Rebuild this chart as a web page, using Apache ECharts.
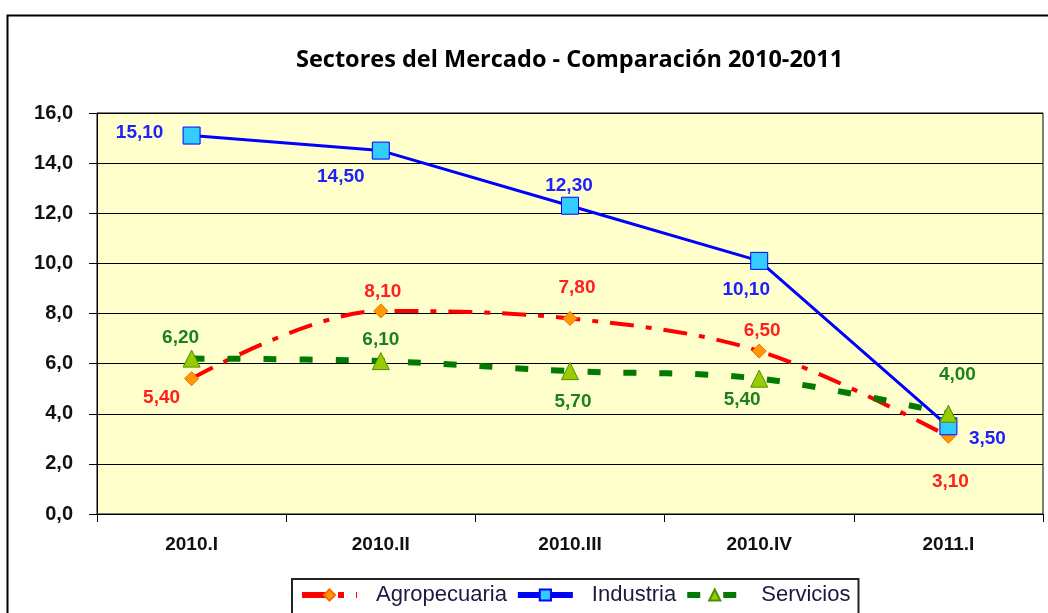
<!DOCTYPE html>
<html><head><meta charset="utf-8">
<script src="https://cdn.jsdelivr.net/npm/echarts@6/dist/echarts.min.js"></script>
<style>html,body{margin:0;padding:0;background:#fff}#c{width:1048px;height:613px}</style>
</head><body><div id="c"></div>
<script>
const categories = ['2010.I','2010.II','2010.III','2010.IV','2011.I'];
const agropecuaria = [5.4, 8.1, 7.8, 6.5, 3.1];
const industria = [15.1, 14.5, 12.3, 10.1, 3.5];
const servicios = [6.2, 6.1, 5.7, 5.4, 4.0];
const yTicks = {min: 0, max: 16, interval: 2};

const agroOff = [[-30,19],[2,-19],[7,-31],[3,-20],[2,45]];
const indOff = [[-52,-3],[-40,26],[-1,-20],[-13,29],[39,12]];
const servOff = [[-11,-21],[0,-21],[3,31],[-17,21],[9,-39]];

const fmt = v => v.toFixed(2).replace('.', ',');
function mk(vals, offs, color) {
  return vals.map((v, i) => ({
    value: v,
    label: {show: true, position: 'inside', offset: offs[i], color: color,
      fontFamily: 'Liberation Sans', fontWeight: 'bold', fontSize: 19,
      formatter: p => fmt(p.value)}
  }));
}
const chart = echarts.init(document.getElementById('c'), null, {renderer: 'canvas'});
chart.setOption({
  animation: false,
  backgroundColor: '#fff',
  title: {text: 'Sectores del Mercado - Comparación 2010-2011', left: 291, top: 43,
    textStyle: {fontFamily: 'Open Sans', fontWeight: 'bold', fontSize: 23.5, color: '#000'}},
  graphic: [{type: 'rect', left: 5, top: 13, shape: {width: 1060, height: 620},
    style: {fill: 'none', stroke: '#000', lineWidth: 2}, silent: true}],
  grid: {left: 97, right: 5, top: 113, bottom: 99, show: true, backgroundColor: '#FFFFCC', borderColor: '#000', borderWidth: 1},
  legend: {top: 579, left: 292, itemGap: 8, padding: [5, 8, 12, 7], borderColor: '#222', borderWidth: 2,
    backgroundColor: '#fff', itemWidth: 55, itemHeight: 14,
    textStyle: {fontFamily: 'Liberation Sans', fontSize: 22, color: '#1a1a40', padding: [0, 0, 0, 14]},
    data: [
      {name: 'Agropecuaria', lineStyle: {width: 6}},
      {name: 'Industria', lineStyle: {width: 6}},
      {name: 'Servicios', lineStyle: {width: 6}}
    ]},
  xAxis: {type: 'category', data: categories, boundaryGap: true,
    axisLine: {lineStyle: {color: '#000', width: 1}},
    axisTick: {show: true, length: 8, lineStyle: {color: '#000'}},
    axisLabel: {margin: 21, fontFamily: 'Liberation Sans', fontWeight: 'bold', fontSize: 19, color: '#111'}},
  yAxis: {type: 'value', min: yTicks.min, max: yTicks.max, interval: yTicks.interval,
    axisLine: {show: true, lineStyle: {color: '#000'}},
    axisTick: {show: true, length: 8, lineStyle: {color: '#000'}},
    splitLine: {lineStyle: {color: '#000', width: 1}},
    axisLabel: {margin: 24, fontFamily: 'Liberation Sans', fontWeight: 'bold', fontSize: 20, color: '#111',
      formatter: v => v.toFixed(1).replace('.', ',')}},
  series: [
    {name: 'Agropecuaria', type: 'line', smooth: 0.35, data: mk(agropecuaria, agroOff, '#FF2020'),
      lineStyle: {color: '#FF0000', width: 4, type: [24, 12, 6, 12]},
      itemStyle: {color: '#FF9900', borderColor: '#FF6600', borderWidth: 1},
      symbol: 'diamond', symbolSize: 14, z: 2},
    {name: 'Industria', type: 'line', data: mk(industria, indOff, '#2020FF'),
      lineStyle: {color: '#0000FF', width: 3},
      itemStyle: {color: '#33CCFF', borderColor: '#0000FF', borderWidth: 1},
      symbol: 'rect', symbolSize: 17, z: 3},
    {name: 'Servicios', type: 'line', smooth: 0.35, data: mk(servicios, servOff, '#1E7F1E'),
      lineStyle: {color: '#007A00', width: 6, type: [13, 23]},
      itemStyle: {color: '#99CC00', borderColor: '#4E8F00', borderWidth: 1},
      symbol: 'triangle', symbolSize: 17, z: 4}
  ]
});
</script></body></html>
